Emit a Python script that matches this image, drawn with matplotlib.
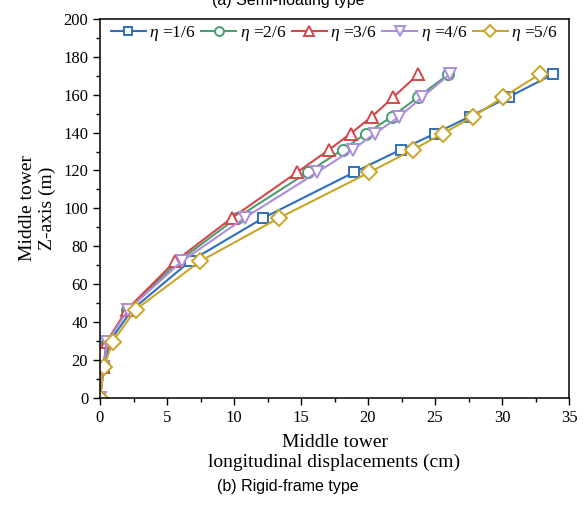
import matplotlib
matplotlib.use("Agg")
import matplotlib.pyplot as plt
from matplotlib.ticker import MultipleLocator

plt.rcParams['font.family'] = ['Liberation Serif', 'DejaVu Serif']
plt.rcParams['mathtext.fontset'] = 'custom'
plt.rcParams['mathtext.rm'] = 'Liberation Serif'
plt.rcParams['mathtext.it'] = 'Liberation Serif:italic'

# tower height of each output point (m)
heights = [0, 16, 29.5, 46.5, 72, 95, 119, 131, 139.5, 148.5, 158.8, 170.8]

# longitudinal displacement (cm) for each eta
disp_16 = [0, 0.3, 0.7, 2.4, 6.7, 12.2, 18.95, 22.45, 25.0, 27.6, 30.5, 33.8]
disp_26 = [0, 0.25, 0.5, 2.05, 5.85, 10.2, 15.5, 18.1, 19.85, 21.8, 23.75, 26.0]
disp_36 = [0, 0.25, 0.5, 2.0, 5.6, 9.85, 14.7, 17.1, 18.7, 20.3, 21.9, 23.75]
disp_46 = [0, 0.25, 0.55, 2.1, 6.1, 10.8, 16.2, 18.85, 20.5, 22.35, 24.05, 26.1]
disp_56 = [0, 0.28, 0.94, 2.66, 7.46, 13.38, 20.1, 23.35, 25.6, 27.85, 30.1, 32.8]

labels = ['$\\eta$ =1/6', '$\\eta$ =2/6', '$\\eta$ =3/6', '$\\eta$ =4/6', '$\\eta$ =5/6']
series = [disp_16, disp_26, disp_36, disp_46, disp_56]
colors = ['#2f6fb8', '#4a9d72', '#d2484a', '#ad8ddb', '#c9a52a']
markers = ['s', 'o', '^', 'v', 'D']
msizes = [7.5, 8, 8.5, 8.5, 8]

fig = plt.figure(figsize=(5.88, 5.08), dpi=100)
ax = fig.add_axes([100/588, 1 - 397.7/508, 469/588, 378.7/508])

for xs, lab, c, m, ms in zip(series, labels, colors, markers, msizes):
    ax.plot(xs, heights, color=c, lw=1.5, marker=m, ms=ms,
            markerfacecolor='white', markeredgecolor=c, markeredgewidth=1.4,
            label=lab)

ax.set_xlim(0, 35)
ax.set_ylim(0, 200)
ax.xaxis.set_major_locator(MultipleLocator(5))
ax.xaxis.set_minor_locator(MultipleLocator(2.5))
ax.yaxis.set_major_locator(MultipleLocator(20))
ax.yaxis.set_minor_locator(MultipleLocator(10))
ax.tick_params(which='both', direction='out', top=False, right=False, labelsize=12)
ax.tick_params(which='major', length=5, width=1)
ax.tick_params(which='minor', length=3, width=1)
for s in ax.spines.values():
    s.set_linewidth(1.1)

ax.set_xlabel('Middle tower\nlongitudinal displacements (cm)', fontsize=14, labelpad=6,
              linespacing=1.25)
ax.set_ylabel('Middle tower\nZ-axis (m)', fontsize=14, labelpad=5, linespacing=1.2)

ax.legend(loc='upper left', bbox_to_anchor=(-0.003, 1.02), ncol=5, frameon=False,
          fontsize=12.6, handlelength=2.0, handletextpad=0.2, columnspacing=0.3,
          markerscale=0.8, borderaxespad=0.3)

fig.text(0.49, 1 - 486/508, '(b) Rigid-frame type', ha='center', va='center',
         fontsize=11.5, family=['Liberation Sans', 'DejaVu Sans'])
fig.text(0.49, 1 - 5/508, '(a) Semi-floating type', ha='center', va='baseline',
         fontsize=11.5, family=['Liberation Sans', 'DejaVu Sans'])

fig.savefig('out.png', dpi=100)
